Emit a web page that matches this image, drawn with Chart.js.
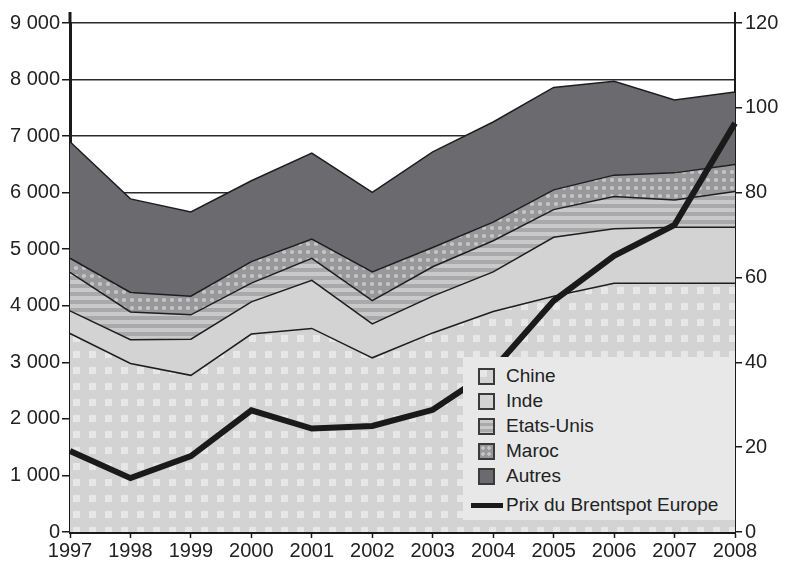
<!DOCTYPE html>
<html>
<head>
<meta charset="utf-8">
<script src="https://cdn.jsdelivr.net/npm/chart.js@4"></script>
<style>
  body { margin: 0; background: #fff; }
  #wrap { position: relative; width: 787px; height: 562px; }
  #legend {
    position: absolute; left: 463px; top: 357px; width: 272px; height: 163px;
    background: #e8e8e9; font-family: 'Liberation Sans', Arial, sans-serif;
    font-size: 19px; color: #222;
  }
  .item { position: absolute; left: 0; height: 22px; line-height: 22px; }
  .item span.sw {
    position: absolute; left: 15px; top: 3px; width: 13px; height: 13px;
    border: 2px solid #3a3a3a;
  }
  .item span.txt { position: absolute; left: 43px; top: 0; white-space: nowrap; }
  .item span.ln { position: absolute; left: 8px; top: 9px; width: 32px; height: 5px; background: #1a1a1a; }
</style>
</head>
<body>
<div id="wrap">
  <canvas id="chart" width="787" height="562"></canvas>
  <div id="legend"></div>
</div>
<script>
// Data
const years = ['1997', '1998', '1999', '2000', '2001', '2002', '2003', '2004', '2005', '2006', '2007', '2008'];
const chine = [3510, 2980, 2770, 3500, 3600, 3080, 3520, 3900, 4170, 4400, 4400, 4400];
const inde = [400, 420, 640, 570, 850, 600, 650, 700, 1040, 960, 990, 990];
const etatsUnis = [680, 490, 430, 330, 390, 410, 520, 550, 490, 570, 480, 630];
const maroc = [250, 345, 330, 380, 340, 510, 340, 330, 350, 380, 480, 480];
const autres = [2060, 1655, 1490, 1430, 1520, 1406, 1690, 1770, 1810, 1660, 1290, 1280];
const brent = [19.1, 12.7, 17.9, 28.7, 24.4, 25.0, 28.8, 38.3, 54.5, 65.1, 72.4, 96.4];

const seriesNames = ['Chine', 'Inde', 'Etats-Unis', 'Maroc', 'Autres'];
const lineName = 'Prix du Brentspot Europe';

const canvas = document.getElementById('chart');
const ctx = canvas.getContext('2d');

// small tiles for the fill patterns
const makeTile = (w, h, draw) => {
    const c = document.createElement('canvas');
    c.width = w; c.height = h;
    draw(c.getContext('2d'));
    return c;
};

const chineTile = makeTile(16, 16, g => {
    g.fillStyle = '#d3d3d4'; g.fillRect(0, 0, 16, 16);
    g.fillStyle = '#e7e7e8'; g.fillRect(0, 0, 7, 7);
});
const stripeTile = makeTile(8, 8, g => {
    g.fillStyle = '#c9c9ca'; g.fillRect(0, 0, 8, 8);
    g.fillStyle = '#a9a9ab'; g.fillRect(0, 4, 8, 4);
});
const dotTile = makeTile(8, 8, g => {
    g.fillStyle = '#98989b'; g.fillRect(0, 0, 8, 8);
    g.fillStyle = '#c6c6c7';
    g.beginPath(); g.arc(4, 4, 2.1, 0, Math.PI * 2); g.fill();
});

const chinePattern = ctx.createPattern(chineTile, 'repeat');
chinePattern.setTransform(new DOMMatrix().translate(9, 15));
const stripePattern = ctx.createPattern(stripeTile, 'repeat');
const dotPattern = ctx.createPattern(dotTile, 'repeat');

const fills = [chinePattern, '#d3d3d4', stripePattern, dotPattern, '#6b6b6f'];
const swatchCss = [
    'background:#d3d3d4; background-image: linear-gradient(#e7e7e8,#e7e7e8); background-size:7px 7px; background-repeat:no-repeat;',
    'background:#d3d3d4;',
    'background: repeating-linear-gradient(#c9c9ca 0 3px, #a9a9ab 3px 6px);',
    'background:#98989b; background-image: radial-gradient(circle, #c6c6c7 1.5px, transparent 2px); background-size:6px 6px;',
    'background:#6b6b6f;'
];

const areaData = [chine, inde, etatsUnis, maroc, autres];

const datasets = areaData.map((vals, i) => ({
    label: seriesNames[i],
    data: vals,
    yAxisID: 'y',
    backgroundColor: fills[i],
    borderColor: '#1e1e1e',
    borderWidth: 1.5,
    pointRadius: 0,
    tension: 0,
    fill: i === 0 ? 'origin' : '-1',
    order: 1
}));

datasets.push({
    label: lineName,
    data: brent,
    yAxisID: 'y1',
    borderColor: '#1a1a1a',
    backgroundColor: '#1a1a1a',
    borderWidth: 6,
    pointRadius: 0,
    tension: 0,
    fill: false,
    order: -1
});

const tickFont = { family: "'Liberation Sans', Arial, sans-serif", size: 20 };

// the two vertical axis lines run a bit above the top tick
const axisExtend = {
    id: 'axisExtend',
    afterDraw(chart) {
        const c = chart.ctx;
        const a = chart.chartArea;
        c.save();
        c.strokeStyle = '#1a1a1a';
        c.lineWidth = 3;
        c.beginPath(); c.moveTo(a.left, a.top - 11); c.lineTo(a.left, a.top); c.stroke();
        c.lineWidth = 2;
        c.beginPath(); c.moveTo(a.right, a.top - 11); c.lineTo(a.right, a.top); c.stroke();
        c.restore();
    }
};

new Chart(ctx, {
    type: 'line',
    data: { labels: years, datasets: datasets },
    plugins: [axisExtend],
    options: {
        responsive: false,
        animation: false,
        layout: { padding: { top: 23, left: 0, right: 0, bottom: 0 } },
        plugins: { legend: { display: false }, tooltip: { enabled: false } },
        scales: {
            x: {
                offset: false,
                grid: { display: true, drawOnChartArea: false, tickLength: 6, tickColor: '#1a1a1a', tickWidth: 1.5 },
                border: { display: true, color: '#1a1a1a', width: 3 },
                ticks: { font: tickFont, color: '#222', padding: 1, maxRotation: 0, autoSkip: false },
                afterFit: s => { s.height = 30; }
            },
            y: {
                stacked: true,
                min: 0,
                max: 9000,
                position: 'left',
                grid: { color: '#2a2a2a', lineWidth: 1.5, tickLength: 8, tickColor: '#1a1a1a' },
                border: { display: true, color: '#1a1a1a', width: 3 },
                ticks: {
                    stepSize: 1000,
                    autoSkip: false,
                    font: tickFont,
                    color: '#222',
                    padding: 2,
                    callback: v => v === 0 ? '0' : Math.round(v / 1000) + ' 000'
                },
                afterFit: s => { s.width = 70; }
            },
            y1: {
                min: 0,
                max: 120,
                position: 'right',
                grid: { drawOnChartArea: false, tickLength: 7, tickColor: '#1a1a1a', lineWidth: 1.5 },
                border: { display: true, color: '#1a1a1a', width: 2 },
                ticks: { stepSize: 20, font: tickFont, color: '#222', padding: 3 },
                afterFit: s => { s.width = 52; }
            }
        }
    }
});

// HTML legend
const legend = document.getElementById('legend');
const rowTops = [8, 33, 58, 83, 108];
seriesNames.forEach((name, i) => {
    const row = document.createElement('div');
    row.className = 'item';
    row.style.top = rowTops[i] + 'px';
    row.innerHTML = '<span class="sw" style="' + swatchCss[i] + '"></span><span class="txt">' + name + '</span>';
    legend.appendChild(row);
});
const lineRow = document.createElement('div');
lineRow.className = 'item';
lineRow.style.top = '137px';
lineRow.innerHTML = '<span class="ln"></span><span class="txt">' + lineName + '</span>';
legend.appendChild(lineRow);
</script>
</body>
</html>
